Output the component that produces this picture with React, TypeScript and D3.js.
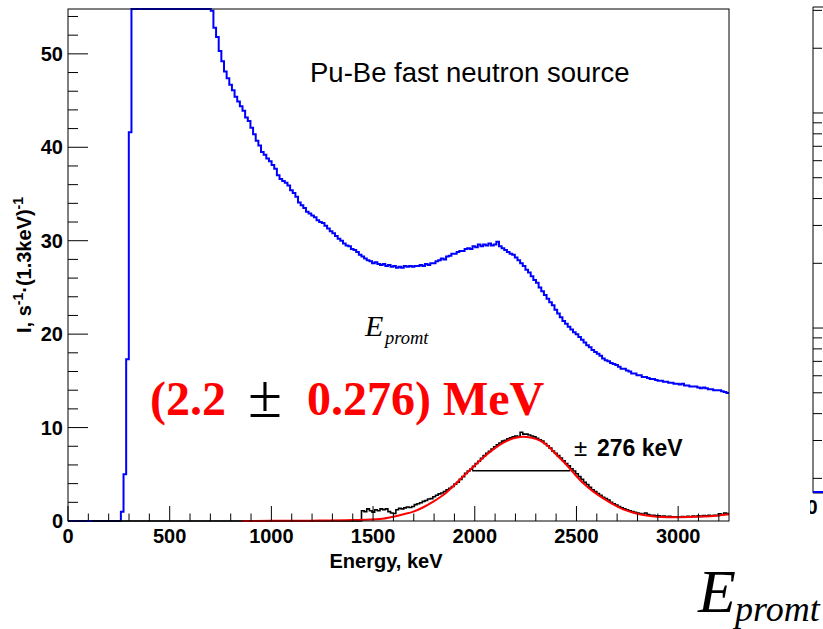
import React from 'react';
import * as d3 from 'd3';

// bins are 13 keV wide (250 bins over 0..3250 keV)
const BIN = 13;
const X_MAX = 3250;
const Y_MAX = 54.8;

// blue: Pu-Be spectrum, first non-zero bin starts at 260 keV
const blueStart = 260;
const blueValues = [
  1.0, 5.0, 17.3, 41.6,
  62, 78, 95, 110, 118, 121, 119, 115, 109, 104, 99, 94, 90, 86, 82, 79,
  76, 73, 70, 68, 66, 64, 62, 61, 60, 59, 58, 57, 56, 55.5,
  54.6, 52.8, 51.8, 50.3, 49.2, 48.1, 47.4, 46.7, 46.1, 45.4,
  44.9, 44.4, 43.9, 43.2, 42.8, 42.1, 41.4, 40.7, 40.2, 39.5,
  39.2, 38.8, 38.5, 38.1, 37.7, 37.0, 36.6, 36.4, 36.2, 35.9,
  35.4, 35.1, 34.7, 34.1, 33.8, 33.5, 33.1, 32.9, 32.7, 32.5,
  32.2, 32.0, 31.9, 31.6, 31.3, 31.0, 30.8, 30.5, 30.2, 30.0,
  29.7, 29.5, 29.4, 29.1, 29.0, 28.8, 28.5, 28.3, 28.1, 27.9,
  27.8, 27.6, 27.7, 27.5, 27.4, 27.5, 27.3, 27.4, 27.2, 27.3,
  27.1, 27.2, 27.1, 27.3, 27.2, 27.3, 27.2, 27.3, 27.3, 27.4,
  27.3, 27.5, 27.4, 27.6, 27.6, 27.8, 27.9, 28.1, 28.0, 28.3,
  28.4, 28.6, 28.6, 28.8, 28.9, 28.9, 29.1, 29.2, 29.1, 29.4,
  29.3, 29.6, 29.4, 29.6, 29.5, 29.7, 29.5, 29.6, 29.9, 29.4,
  29.2, 29.0, 28.8, 28.6, 28.5, 28.2, 27.9, 27.6, 27.3, 26.9,
  26.6, 26.2, 25.8, 25.5, 25.0, 24.6, 24.2, 23.8, 23.4, 23.1,
  22.6, 22.2, 21.8, 21.4, 21.1, 20.8, 20.5, 20.2, 20.0, 19.7,
  19.4, 19.1, 18.8, 18.6, 18.3, 18.1, 17.9, 17.7, 17.4, 17.2,
  17.1, 16.9, 16.8, 16.7, 16.5, 16.3, 16.3, 16.1, 16.0, 15.8,
  15.8, 15.6, 15.6, 15.4, 15.4, 15.3, 15.2, 15.2, 15.1, 15.0,
  15.0, 14.9, 14.9, 14.8, 14.8, 14.7, 14.7, 14.6, 14.7, 14.5,
  14.5, 14.4, 14.4, 14.4, 14.3, 14.2, 14.3, 14.2, 14.1, 14.1,
  14.0, 14.0, 14.0, 13.9, 13.8, 13.7,
];

// black: gated spectrum, zero from 117 keV, data from 1443 keV
const blackZeroFrom = 117;
const blackStart = 1443;
const blackValues = [
  1.1, 1.0, 1.3, 1.1, 0.95, 1.2, 1.1, 1.3, 1.2, 1.3,
  1.0, 0.85, 0.8, 1.2, 1.35, 1.3, 1.4, 1.5, 1.45, 1.55,
  1.75, 1.85, 1.95, 2.1, 2.2, 2.35, 2.4, 2.6, 2.75, 2.9,
  3.0, 3.15, 3.35, 3.5, 3.7, 3.95, 4.15, 4.45, 4.75, 5.1,
  5.35, 5.55, 5.85, 6.15, 6.4, 6.7, 7.0, 7.25, 7.45, 7.7,
  7.95, 8.15, 8.35, 8.55, 8.65, 8.8, 8.9, 9.0, 9.1, 9.05,
  9.5, 9.3, 9.3, 9.2, 9.1, 9.0, 8.85, 8.7, 8.55, 8.3,
  8.05, 7.8, 7.5, 7.25, 7.0, 6.75, 6.45, 6.15, 5.9, 5.6,
  5.35, 5.05, 4.75, 4.45, 4.15, 3.9, 3.6, 3.35, 3.15, 2.95,
  2.75, 2.55, 2.4, 2.25, 2.0, 1.85, 1.7, 1.55, 1.4, 1.3,
  1.2, 1.1, 1.0, 0.92, 0.85, 0.8, 0.72, 0.85, 0.7, 0.62,
  0.6, 0.55, 0.55, 0.5, 0.52, 0.45, 0.5, 0.45, 0.42, 0.45,
  0.4, 0.48, 0.45, 0.5, 0.45, 0.52, 0.48, 0.55, 0.5, 0.58,
  0.55, 0.6, 0.55, 0.62, 0.6, 0.78, 0.7, 0.85, 0.8,
];

// red: fitted curve [keV, value]
const redCurve: [number, number][] = [
  [854, 0], [1000, 0.02], [1200, 0.04], [1400, 0.1], [1534, 0.21],
  [1600, 0.46], [1649, 0.72], [1698, 1.0], [1747, 1.47], [1796, 2.07],
  [1845, 2.78], [1895, 3.75], [1944, 4.8], [1993, 5.8], [2042, 6.8],
  [2091, 7.67], [2141, 8.38], [2190, 8.85], [2235, 9.03], [2280, 8.9],
  [2321, 8.6], [2354, 8.13], [2403, 7.06], [2452, 5.99], [2485, 5.17],
  [2534, 4.03], [2583, 3.14], [2632, 2.43], [2681, 1.79], [2730, 1.25],
  [2780, 0.89], [2829, 0.64], [2895, 0.46], [2993, 0.4], [3091, 0.46],
  [3190, 0.57], [3250, 0.72],
];

// half-maximum bar
const fwhmLo = 1987;
const fwhmHi = 2469;
const fwhmLevel = 5.38;

const xMajor = [0, 500, 1000, 1500, 2000, 2500, 3000];
const yMajor = [0, 10, 20, 30, 40, 50];

const sans = 'Liberation Sans, Arial, Helvetica, sans-serif';
const serif = 'Liberation Serif, Times New Roman, serif';

export default function App() {
  const left = 68, right = 729, top = 9, bottom = 521;

  const x = d3.scaleLinear().domain([0, X_MAX]).range([left, right]);
  const y = d3.scaleLinear().domain([0, Y_MAX]).range([bottom, top]).clamp(true);

  const step = d3.line<[number, number]>()
    .x(d => x(d[0])).y(d => y(d[1]))
    .curve(d3.curveStepAfter);

  const bluePts: [number, number][] = [[0, 0]];
  blueValues.forEach((v, i) => bluePts.push([blueStart + i * BIN, v]));
  bluePts.push([blueStart + blueValues.length * BIN, blueValues[blueValues.length - 1]]);

  const blackPts: [number, number][] = [[blackZeroFrom, 0]];
  blackValues.forEach((v, i) => blackPts.push([blackStart + i * BIN, v]));
  blackPts.push([blackStart + blackValues.length * BIN, blackValues[blackValues.length - 1]]);

  const redLine = d3.line<[number, number]>()
    .x(d => x(d[0])).y(d => y(d[1]))
    .curve(d3.curveMonotoneX);

  const xMinor = d3.range(0, X_MAX + 1, 100).filter(v => v % 500 !== 0);
  const yMinor = d3.range(0, Y_MAX, 2).filter(v => v % 10 !== 0);

  // right-hand (log) pad, only its left edge is visible
  const pLeft = 813, pTop = 7, pBottom = 493;
  const yLog = d3.scaleLog().domain([1.71, 311]).range([pBottom, pTop]);
  const logTicks = yLog.ticks();

  return (
    <svg width={823} height={629} style={{ position: 'absolute', left: 0, top: 0, background: '#fff' }}>
      <defs>
        <clipPath id="padR"><rect x={810} y={0} width={20} height={629} /></clipPath>
      </defs>
      <rect x={0} y={0} width={823} height={629} fill="#fff" />

      {/* histograms */}
      <path d={step(bluePts) || ''} fill="none" stroke="#0000ff" strokeWidth={2} />
      <path d={step(blackPts) || ''} fill="none" stroke="#000" strokeWidth={1.6} />
      <path d={redLine(redCurve) || ''} fill="none" stroke="#ff0000" strokeWidth={2} />
      <line x1={x(fwhmLo)} x2={x(fwhmHi)} y1={y(fwhmLevel)} y2={y(fwhmLevel)} stroke="#000" strokeWidth={1.5} />

      {/* frame */}
      <rect x={left} y={top} width={right - left} height={bottom - top} fill="none" stroke="#000" strokeWidth={1} />

      {/* x axis */}
      {xMajor.map(v => (
        <g key={'xm' + v}>
          <line x1={x(v)} x2={x(v)} y1={bottom} y2={bottom - 15} stroke="#000" />
          <text x={x(v)} y={543} textAnchor="middle" fontFamily={sans} fontWeight="bold" fontSize={20}>{v}</text>
        </g>
      ))}
      {xMinor.map(v => (
        <line key={'xn' + v} x1={x(v)} x2={x(v)} y1={bottom} y2={bottom - 7.5} stroke="#000" />
      ))}
      <text x={386} y={568} textAnchor="middle" fontFamily={sans} fontWeight="bold" fontSize={20}>Energy, keV</text>

      {/* y axis */}
      {yMajor.map(v => (
        <g key={'ym' + v}>
          <line x1={left} x2={left + 20} y1={y(v)} y2={y(v)} stroke="#000" />
          <text x={63} y={y(v)} dy="0.36em" textAnchor="end" fontFamily={sans} fontWeight="bold" fontSize={20}>{v}</text>
        </g>
      ))}
      {yMinor.map(v => (
        <line key={'yn' + v} x1={left} x2={left + 10} y1={y(v)} y2={y(v)} stroke="#000" />
      ))}
      <text transform="translate(31,265) rotate(-90)" textAnchor="middle" fontFamily={sans} fontWeight="bold" fontSize={20}>
        I, s<tspan fontSize={14} dy={-8}>-1</tspan><tspan dy={8}>·(1.3keV)</tspan><tspan fontSize={14} dy={-8}>-1</tspan>
      </text>

      {/* annotations */}
      <text x={310} y={82} fontFamily={sans} fontSize={27.5}>Pu-Be fast neutron source</text>

      <text x={365} y={336} fontFamily={serif} fontStyle="italic" fontSize={30}>E</text>
      <text x={385} y={344} fontFamily={serif} fontStyle="italic" fontSize={18.5}>promt</text>

      <text x={150} y={415} fontFamily={serif} fontWeight="bold" fontSize={48} fill="#ff0000">(2.2</text>
      <text x={265} y={417} textAnchor="middle" fontFamily={serif} fontSize={62} fill="#000">±</text>
      <text x={307} y={415} fontFamily={serif} fontWeight="bold" fontSize={48} fill="#ff0000">0.276) MeV</text>

      <text x={574} y={456} fontFamily={sans} fontSize={24}>±</text>
      <text x={597} y={456} fontFamily={sans} fontWeight="bold" fontSize={23}>276 keV</text>

      <text x={698} y={612} fontFamily={serif} fontStyle="italic" fontSize={62}>E</text>
      <text x={735} y={621} fontFamily={serif} fontStyle="italic" fontSize={36}>promt</text>

      {/* right pad */}
      <g clipPath="url(#padR)">
        <line x1={pLeft} x2={823} y1={pTop} y2={pTop} stroke="#000" />
        <line x1={pLeft} x2={pLeft} y1={pTop} y2={pBottom} stroke="#000" />
        <line x1={pLeft} x2={823} y1={pBottom} y2={pBottom} stroke="#000" />
        {logTicks.map((v, i) => {
          const major = Math.abs(Math.log10(v) - Math.round(Math.log10(v))) < 1e-9;
          return <line key={'lt' + i} x1={pLeft} x2={pLeft + (major ? 18 : 9)} y1={yLog(v)} y2={yLog(v)} stroke="#000" />;
        })}
        <line x1={pLeft} x2={823} y1={pBottom - 1} y2={pBottom - 1} stroke="#0000ff" strokeWidth={2} />
        <text x={812} y={514} textAnchor="middle" fontFamily={sans} fontWeight="bold" fontSize={20}>0</text>
      </g>
    </svg>
  );
}
